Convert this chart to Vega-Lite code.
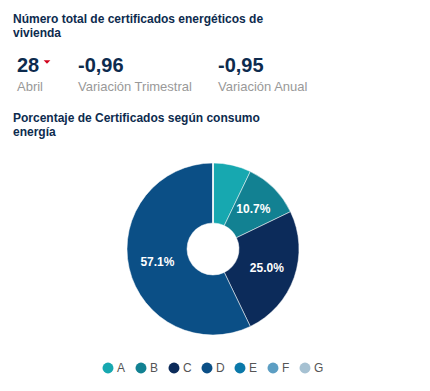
{
  "$schema": "https://vega.github.io/schema/vega-lite/v6.json",
  "background": "white",
  "padding": {"left": 13, "top": 13, "right": 0, "bottom": 0},
  "spacing": 16,
  "config": {
    "view": {"stroke": null},
    "font": "Liberation Sans",
    "title": {"anchor": "start", "fontSize": 12, "fontWeight": "bold", "color": "#0d2b4e", "lineHeight": 14, "font": "Liberation Sans", "offset": 6}
  },
  "vconcat": [
    {
      "title": {"text": ["Número total de certificados energéticos de", "vivienda"]},
      "width": 400,
      "height": 50,
      "data": {"values": [
        {"orden": 0, "tipo": "valor", "texto": "28"},
        {"orden": 0, "tipo": "etiqueta", "texto": "Abril"},
        {"orden": 1, "tipo": "valor", "texto": "-0,96"},
        {"orden": 1, "tipo": "etiqueta", "texto": "Variación Trimestral"},
        {"orden": 2, "tipo": "valor", "texto": "-0,95"},
        {"orden": 2, "tipo": "etiqueta", "texto": "Variación Anual"}
      ]},
      "encoding": {
        "x": {"field": "orden", "type": "quantitative", "scale": {"domain": [0, 1, 2], "range": [4, 65, 205]}, "axis": null},
        "y": {"field": "tipo", "type": "nominal", "scale": {"type": "point", "domain": ["valor", "etiqueta"], "range": [26, 45], "padding": 0}, "axis": null}
      },
      "layer": [
        {
          "transform": [{"filter": "datum.tipo == 'valor'"}],
          "mark": {"type": "text", "align": "left", "baseline": "alphabetic", "fontSize": 20, "fontWeight": "bold", "color": "#0d2b4e"},
          "encoding": {"text": {"field": "texto"}}
        },
        {
          "transform": [{"filter": "datum.tipo == 'etiqueta'"}],
          "mark": {"type": "text", "align": "left", "baseline": "alphabetic", "fontSize": 13, "color": "#999999"},
          "encoding": {"text": {"field": "texto"}}
        },
        {
          "transform": [{"filter": "datum.tipo == 'valor' && datum.orden == 0"}],
          "mark": {"type": "point", "shape": "M-1,-0.55L1,-0.55L0,0.55Z", "filled": true, "size": 45, "color": "#d0021b", "opacity": 1, "xOffset": 30, "yOffset": -10}
        }
      ]
    },
    {
      "title": {"text": ["Porcentaje de Certificados según consumo", "energía"], "offset": 14},
      "width": 400,
      "height": 192,
      "data": {"values": [
        {"clase": "A", "n": 2},
        {"clase": "B", "n": 3},
        {"clase": "C", "n": 7},
        {"clase": "D", "n": 16},
        {"clase": "E", "n": 0},
        {"clase": "F", "n": 0},
        {"clase": "G", "n": 0}
      ]},
      "transform": [
        {"joinaggregate": [{"op": "sum", "field": "n", "as": "total"}]},
        {"calculate": "datum.n / datum.total >= 0.08 ? format(datum.n / datum.total, '.1%') : ''", "as": "etiqueta"}
      ],
      "encoding": {
        "theta": {"field": "n", "type": "quantitative", "stack": true}
      },
      "layer": [
        {
          "mark": {"type": "arc", "outerRadius": 86, "innerRadius": 26, "stroke": "white", "strokeWidth": 0.5},
          "encoding": {
            "color": {
              "field": "clase", "type": "nominal",
              "scale": {"domain": ["A", "B", "C", "D", "E", "F", "G"], "range": ["#17a8b0", "#128192", "#0c2b5a", "#0b4f86", "#0a78a9", "#5c9ec3", "#a6c1d2"]},
              "legend": {"orient": "none", "legendX": 89, "legendY": 316, "direction": "horizontal", "title": null, "symbolType": "circle", "symbolSize": 120, "symbolStrokeWidth": 0, "labelFontSize": 12, "labelColor": "#555555", "columnPadding": 9, "labelOffset": 3}
            }
          }
        },
        {
          "mark": {"type": "text", "radius": 57, "fontSize": 12, "fontWeight": "bold", "color": "white"},
          "encoding": {"text": {"field": "etiqueta"}}
        }
      ]
    }
  ]
}
